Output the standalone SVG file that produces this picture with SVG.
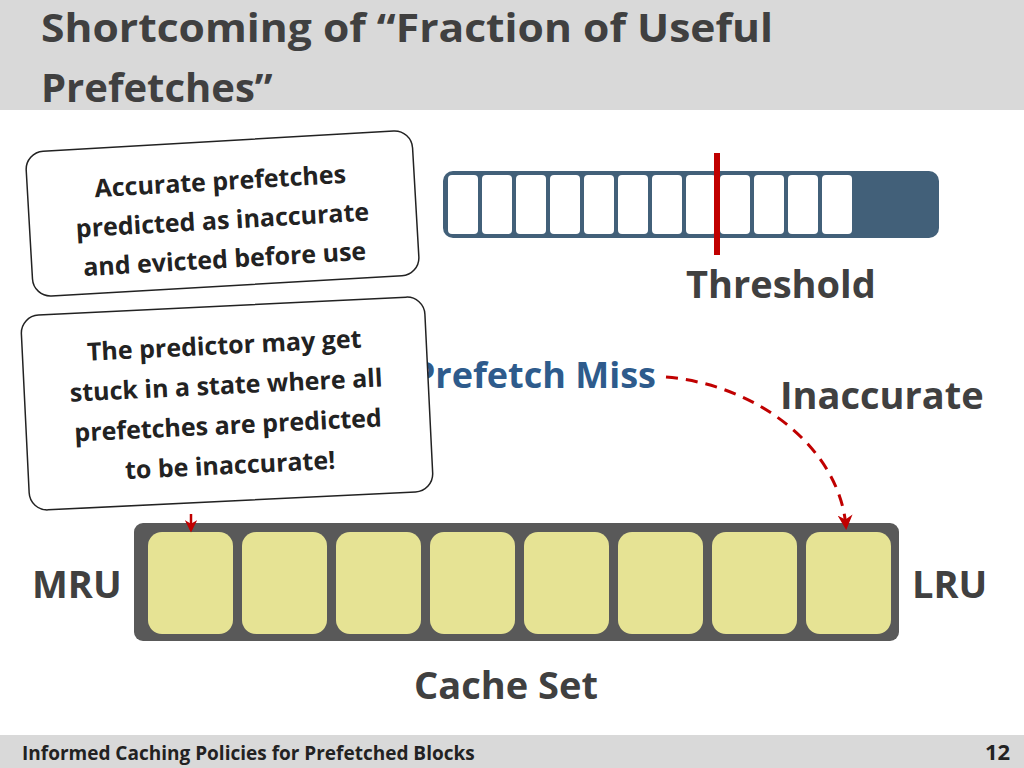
<svg xmlns="http://www.w3.org/2000/svg" width="1024" height="768" viewBox="0 0 1024 768">
<defs>
<style>
text{font-family:"Open Sans","Liberation Sans",sans-serif;font-weight:bold}
.title{font-size:40px;fill:#404040}
.lbl{font-size:38px;fill:#404040}
.call{font-size:25px;fill:#222;text-anchor:middle}
.wc{fill:#fff}
.yc{fill:#e6e394}
.bubble{fill:#fff;stroke:#222;stroke-width:1.5}
</style>
<marker id="ah" viewBox="0 0 10 10" refX="8" refY="5" markerWidth="5" markerHeight="5" orient="auto"><path d="M0,0 L10,5 L0,10 L3,5 Z" fill="#c00000"/></marker>
</defs>
<rect width="1024" height="768" fill="#fff"/>
<rect width="1024" height="110" fill="#d9d9d9"/>
<text class="title" x="41" y="42" textLength="732" lengthAdjust="spacingAndGlyphs">Shortcoming of “Fraction of Useful</text>
<text class="title" x="41" y="102">Prefetches”</text>
<g id="counter">
<rect x="443" y="171" width="496" height="67" rx="10" fill="#426079"/>
<rect class="wc" x="448" y="175" width="30" height="59" rx="4"/>
<rect class="wc" x="482" y="175" width="30" height="59" rx="4"/>
<rect class="wc" x="516" y="175" width="30" height="59" rx="4"/>
<rect class="wc" x="550" y="175" width="30" height="59" rx="4"/>
<rect class="wc" x="584" y="175" width="30" height="59" rx="4"/>
<rect class="wc" x="618" y="175" width="30" height="59" rx="4"/>
<rect class="wc" x="652" y="175" width="30" height="59" rx="4"/>
<rect class="wc" x="686" y="175" width="30" height="59" rx="4"/>
<rect class="wc" x="720" y="175" width="30" height="59" rx="4"/>
<rect class="wc" x="754" y="175" width="30" height="59" rx="4"/>
<rect class="wc" x="788" y="175" width="30" height="59" rx="4"/>
<rect class="wc" x="822" y="175" width="30" height="59" rx="4"/>
<rect x="714" y="153" width="6" height="102" fill="#c00000"/>
</g>
<text id="threshold" class="lbl" x="686" y="298">Threshold</text>
<text id="pmiss" x="656" y="388" text-anchor="end" font-size="36" fill="#2e5b8c">Prefetch Miss</text>
<text id="inacc" class="lbl" x="780" y="409">Inaccurate</text>
<g id="cacheset">
<rect x="134" y="523" width="765" height="118" rx="9" fill="#595959"/>
<rect class="yc" x="148" y="532" width="85" height="102" rx="14"/>
<rect class="yc" x="242" y="532" width="85" height="102" rx="14"/>
<rect class="yc" x="336" y="532" width="85" height="102" rx="14"/>
<rect class="yc" x="430" y="532" width="85" height="102" rx="14"/>
<rect class="yc" x="524" y="532" width="85" height="102" rx="14"/>
<rect class="yc" x="618" y="532" width="85" height="102" rx="14"/>
<rect class="yc" x="712" y="532" width="85" height="102" rx="14"/>
<rect class="yc" x="806" y="532" width="85" height="102" rx="14"/>
</g>
<text id="mru" class="lbl" x="32" y="598">MRU</text>
<text id="lru" class="lbl" x="912" y="598">LRU</text>
<text id="cs" class="lbl" x="414" y="699">Cache Set</text>
<g id="connectors" fill="none" stroke="#c00000" stroke-width="3">
<path d="M666,377 C760,385 840,450 846,527" stroke-dasharray="12,8" marker-end="url(#ah)"/>
<path d="M191,514 L191,530" stroke-width="2.5" marker-end="url(#ah)"/>
</g>
<g id="callout1" transform="rotate(-3.3 222 213)">
<rect class="bubble" x="29" y="141" width="387" height="145" rx="18"/>
<text class="call" x="222" y="190">Accurate prefetches</text>
<text class="call" x="222" y="229">predicted as inaccurate</text>
<text class="call" x="222" y="268">and evicted before use</text>
</g>
<g id="callout2" transform="rotate(-2.8 227 403)">
<rect class="bubble" x="25" y="306" width="404" height="195" rx="18"/>
<text class="call" x="227" y="354">The predictor may get</text>
<text class="call" x="227" y="394">stuck in a state where all</text>
<text class="call" x="227" y="434">prefetches are predicted</text>
<text class="call" x="227" y="474">to be inaccurate!</text>
</g>
<rect y="735" width="1024" height="33" fill="#d9d9d9"/>
<text x="22" y="760" font-size="19" fill="#222">Informed Caching Policies for Prefetched Blocks</text>
<text x="985" y="760" font-size="22" fill="#222">12</text>
</svg>
